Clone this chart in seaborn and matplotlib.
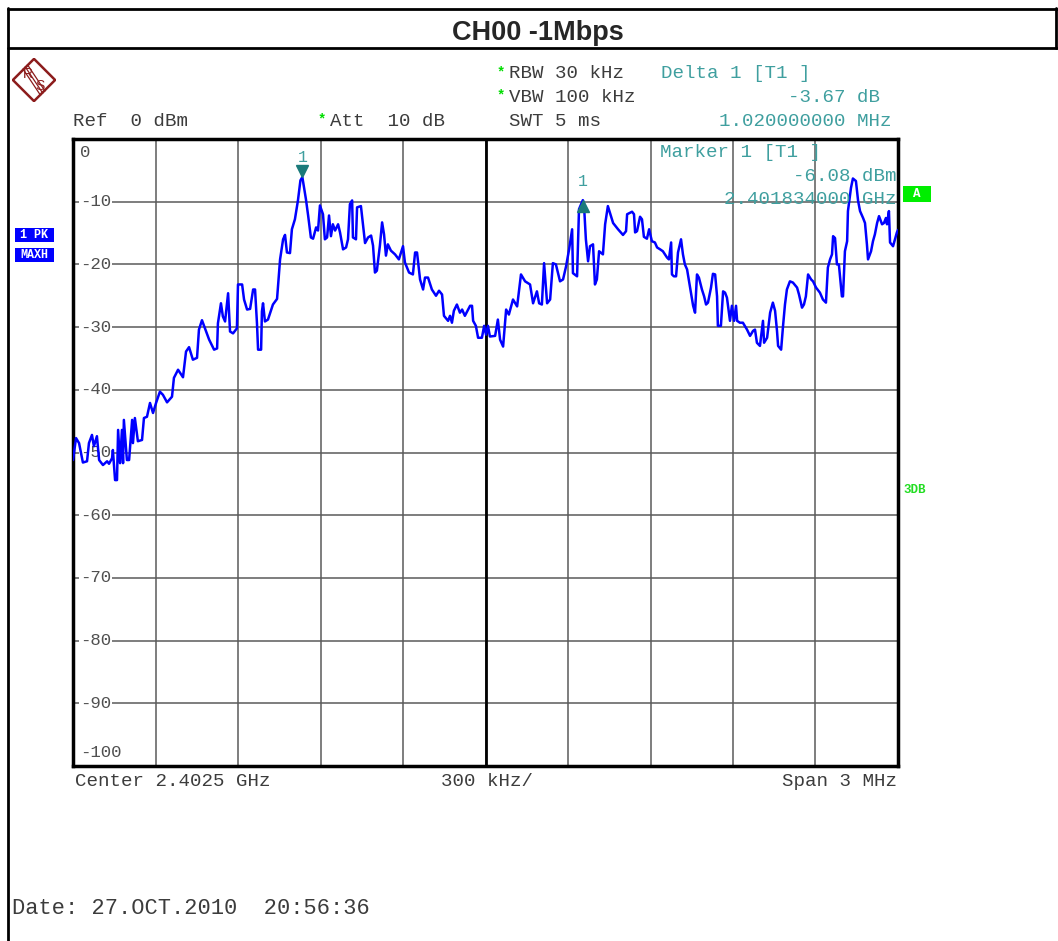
import matplotlib
matplotlib.use("Agg")
import matplotlib.pyplot as plt
import seaborn as sns
import numpy as np
import pandas as pd
from matplotlib.patches import Polygon, Rectangle
from matplotlib.lines import Line2D

# spectrum trace: offset from 2.401 GHz (MHz) and level (dBm)
freq_mhz = [
    0.000, 0.011, 0.022, 0.036, 0.051, 0.058, 0.069, 0.076, 0.087, 0.095,
    0.109, 0.124, 0.131, 0.142, 0.145, 0.153, 0.160, 0.164, 0.171, 0.178,
    0.182, 0.185, 0.196, 0.204, 0.215, 0.218, 0.225, 0.236, 0.251, 0.258,
    0.269, 0.280, 0.291, 0.302, 0.316, 0.327, 0.342, 0.360, 0.367, 0.382,
    0.400, 0.411, 0.422, 0.436, 0.451, 0.458, 0.469, 0.480, 0.495, 0.513,
    0.524, 0.527, 0.538, 0.545, 0.553, 0.564, 0.571, 0.582, 0.596, 0.600,
    0.615, 0.622, 0.633, 0.644, 0.655, 0.662, 0.669, 0.673, 0.684, 0.687,
    0.691, 0.698, 0.709, 0.727, 0.742, 0.753, 0.764, 0.771, 0.778, 0.789,
    0.796, 0.807, 0.818, 0.827, 0.834, 0.847, 0.855, 0.865, 0.873, 0.884,
    0.891, 0.898, 0.909, 0.916, 0.924, 0.931, 0.938, 0.945, 0.953, 0.964,
    0.971, 0.982, 0.993, 1.000, 1.007, 1.015, 1.018, 1.029, 1.033, 1.047,
    1.055, 1.062, 1.073, 1.084, 1.091, 1.098, 1.105, 1.116, 1.124, 1.131,
    1.138, 1.145, 1.156, 1.171, 1.185, 1.200, 1.207, 1.222, 1.236, 1.244,
    1.251, 1.262, 1.273, 1.280, 1.291, 1.305, 1.320, 1.331, 1.342, 1.349,
    1.364, 1.371, 1.378, 1.385, 1.396, 1.407, 1.415, 1.425, 1.444, 1.451,
    1.455, 1.465, 1.473, 1.487, 1.495, 1.502, 1.509, 1.516, 1.535, 1.545,
    1.553, 1.564, 1.575, 1.585, 1.600, 1.615, 1.629, 1.644, 1.662, 1.673,
    1.687, 1.695, 1.705, 1.713, 1.724, 1.735, 1.745, 1.756, 1.771, 1.782,
    1.793, 1.804, 1.815, 1.818, 1.833, 1.840, 1.854, 1.858, 1.865, 1.873,
    1.880, 1.891, 1.898, 1.905, 1.913, 1.927, 1.935, 1.945, 1.964, 1.982,
    2.000, 2.011, 2.015, 2.033, 2.040, 2.044, 2.051, 2.062, 2.069, 2.076,
    2.087, 2.095, 2.105, 2.116, 2.124, 2.135, 2.145, 2.160, 2.167, 2.175,
    2.178, 2.185, 2.193, 2.200, 2.211, 2.218, 2.225, 2.233, 2.244, 2.255,
    2.262, 2.269, 2.276, 2.287, 2.295, 2.302, 2.309, 2.320, 2.327, 2.335,
    2.342, 2.345, 2.356, 2.364, 2.371, 2.378, 2.389, 2.396, 2.404, 2.411,
    2.415, 2.425, 2.436, 2.451, 2.462, 2.473, 2.480, 2.487, 2.498, 2.509,
    2.513, 2.524, 2.535, 2.545, 2.553, 2.560, 2.564, 2.575, 2.582, 2.589,
    2.596, 2.607, 2.618, 2.633, 2.640, 2.651, 2.658, 2.665, 2.673, 2.684,
    2.691, 2.702, 2.716, 2.727, 2.738, 2.745, 2.753, 2.760, 2.764, 2.771,
    2.778, 2.785, 2.796, 2.800, 2.807, 2.815, 2.818, 2.829, 2.836, 2.847,
    2.855, 2.862, 2.873, 2.880, 2.887, 2.891, 2.902, 2.909, 2.916, 2.924,
    2.931, 2.942, 2.949, 2.956, 2.960, 2.967, 2.971, 2.982, 2.989, 2.996,
    3.000,
]
level_dbm = [
    -51.2, -47.7, -48.5, -51.6, -51.4, -48.5, -47.2, -49.0, -47.4, -51.2,
    -52.0, -51.4, -51.8, -50.9, -49.6, -54.4, -54.4, -46.4, -51.7, -46.4,
    -51.7, -44.8, -51.2, -51.2, -44.8, -48.5, -44.5, -48.2, -48.0, -44.5,
    -44.3, -42.1, -43.7, -42.1, -40.3, -40.8, -42.0, -41.1, -38.1, -36.8,
    -38.0, -33.9, -33.2, -35.2, -34.9, -30.4, -28.9, -30.2, -32.0, -33.6,
    -33.4, -29.4, -26.2, -28.3, -29.1, -24.6, -30.7, -31.0, -30.2, -23.2,
    -23.2, -25.6, -27.2, -27.1, -24.0, -24.0, -29.4, -33.6, -33.6, -27.5,
    -26.2, -29.1, -28.8, -26.4, -25.5, -19.2, -16.0, -15.3, -18.1, -18.2,
    -14.4, -12.8, -9.8, -6.6, -6.08, -9.6, -12.2, -15.7, -15.9, -14.1,
    -14.6, -10.6, -12.0, -16.0, -15.7, -12.2, -15.5, -13.6, -14.6, -13.6,
    -14.9, -17.6, -17.3, -16.0, -10.4, -9.8, -15.7, -16.0, -10.9, -10.7,
    -13.8, -16.6, -15.7, -15.4, -17.0, -21.3, -21.0, -17.0, -13.3, -15.2,
    -18.6, -16.8, -17.8, -18.4, -19.2, -17.1, -19.7, -21.3, -21.6, -18.1,
    -18.1, -22.4, -24.0, -22.1, -22.1, -24.0, -25.0, -24.2, -24.8, -28.2,
    -29.0, -28.2, -29.3, -27.4, -26.4, -27.7, -27.2, -28.2, -26.6, -26.6,
    -29.0, -29.8, -31.7, -31.7, -29.8, -31.2, -29.8, -31.5, -31.4, -28.8,
    -32.0, -33.1, -27.2, -28.0, -25.6, -26.7, -21.6, -22.7, -23.2, -26.2,
    -24.3, -26.2, -26.4, -19.8, -26.2, -25.6, -19.8, -20.0, -22.7, -22.4,
    -20.3, -17.6, -14.4, -21.4, -21.9, -11.2, -9.75, -10.4, -16.0, -19.5,
    -17.1, -16.8, -23.2, -22.4, -17.9, -18.4, -13.6, -10.7, -13.4, -14.4,
    -15.3, -14.7, -12.0, -11.6, -12.0, -14.9, -14.7, -12.4, -12.8, -15.6,
    -15.9, -14.4, -16.3, -16.5, -17.3, -17.6, -17.9, -18.9, -19.2, -16.5,
    -21.6, -21.9, -21.9, -18.1, -16.0, -18.4, -20.0, -20.8, -23.7, -26.6,
    -27.7, -21.6, -22.1, -24.0, -25.1, -26.4, -26.1, -23.7, -21.5, -21.6,
    -25.1, -29.8, -29.8, -24.3, -24.5, -25.3, -29.0, -26.6, -29.0, -26.6,
    -29.0, -29.3, -29.3, -30.4, -31.4, -30.6, -30.4, -32.5, -33.0, -29.0,
    -32.5, -31.7, -27.7, -26.1, -27.4, -30.6, -33.0, -33.6, -29.8, -26.4,
    -24.0, -22.7, -22.9, -23.7, -24.8, -26.9, -26.4, -25.1, -21.6, -22.4,
    -22.7, -23.7, -24.5, -25.6, -26.1, -20.5, -19.2, -18.4, -15.5, -15.8,
    -20.0, -20.0, -25.1, -25.1, -17.9, -16.3, -11.5, -7.8, -6.3, -6.7,
    -9.9, -11.5, -12.6, -13.4, -16.8, -19.2, -17.9, -16.3, -15.2, -13.4,
    -12.3, -13.6, -13.4, -12.6, -13.6, -11.5, -16.5, -17.1, -16.0, -14.9,
    -14.5,
]

marker_freq = 0.834
marker_level = -6.08
delta_freq = 1.854
delta_level = -9.75

y_levels = [-10, -20, -30, -40, -50, -60, -70, -80, -90]

header_left = "Ref  0 dBm"
header_att = "Att  10 dB"
header_bw = ["RBW 30 kHz", "VBW 100 kHz", "SWT 5 ms"]
delta_lines = ["Delta 1 [T1 ]", "-3.67 dB", "1.020000000 MHz"]
marker_lines = ["Marker 1 [T1 ]", "-6.08 dBm", "2.401834000 GHz"]

W, H = 1058, 941
MONO = "Liberation Mono"
GREY = "#3c3c3c"
TEAL = "#3f9f9f"

sns.set_style("white")
plt.rcParams["font.family"] = ["Liberation Mono", "DejaVu Sans"]


def fx(x):
    return x / W


def fy(y):
    return 1 - y / H


fig = plt.figure(figsize=(10.58, 9.41), dpi=100)

# outer frame and title row
for xs, ys in [([8, 8], [8, H]), ([8, W], [9, 9]), ([8, W], [48, 48]), ([1056, 1056], [8, 48])]:
    fig.add_artist(Line2D([fx(v) for v in xs], [fy(v) for v in ys], color="black", lw=2))
fig.text(fx(538), fy(33), "CH00 -1Mbps", ha="center", va="center",
         fontsize=19.5, fontweight="bold", family="Liberation Sans")

# R&S logo
logo = fig.add_axes([fx(12), fy(102), fx(44), 44 / H])
logo.set_xlim(0, 1)
logo.set_ylim(0, 1)
logo.axis("off")
red = "#8c1c1c"
logo.add_patch(Polygon([(0.5, 0.98), (0.98, 0.5), (0.5, 0.02), (0.02, 0.5)], closed=True,
                       fill=False, ec=red, lw=1.8))
for off in (-0.05, 0.0, 0.05):
    logo.plot([0.3 + off, 0.7 + off], [0.8 + off, 0.2 + off], color=red, lw=0.9)
logo.text(0.36, 0.64, "R", color=red, fontsize=10, ha="center", va="center", family="Liberation Sans")
logo.text(0.63, 0.36, "S", color=red, fontsize=10, ha="center", va="center", family="Liberation Sans")

# header texts
fs = 13.8
fig.text(fx(73), fy(121), header_left, fontsize=fs, color=GREY, va="center", family=MONO)
fig.text(fx(318), fy(119), "*", fontsize=10, color="#00dd00", va="center", fontweight="bold", family=MONO)
fig.text(fx(330), fy(121), header_att, fontsize=fs, color=GREY, va="center", family=MONO)
for i, txt in enumerate(header_bw):
    yy = 74 + i * 23.5
    if i < 2:
        fig.text(fx(497), fy(yy - 2), "*", fontsize=10, color="#00dd00", va="center", fontweight="bold", family=MONO)
    fig.text(fx(509), fy(yy), txt, fontsize=fs, color=GREY, va="center", family=MONO)
fig.text(fx(661), fy(74), delta_lines[0], fontsize=fs, color=TEAL, va="center", family=MONO)
fig.text(fx(880), fy(97), delta_lines[1], fontsize=fs, color=TEAL, va="center", ha="right", family=MONO)
fig.text(fx(892), fy(121), delta_lines[2], fontsize=fs, color=TEAL, va="center", ha="right", family=MONO)

# trace display
ax = fig.add_axes([fx(73), fy(766), fx(898 - 73), (766 - 139) / H])
df = pd.DataFrame({"freq": freq_mhz, "level": level_dbm})
ax.set_xlim(0, 3)
ax.set_ylim(-100, 0)
ax.set_xticks(np.arange(0, 3.01, 0.3))
ax.set_yticks(np.arange(-100, 1, 10))
ax.tick_params(length=0, labelleft=False, labelbottom=False)
ax.grid(True, color="#5a5a5a", lw=1.1)
ax.axvline(1.5, color="black", lw=2)
for sp in ax.spines.values():
    sp.set_color("black")
    sp.set_linewidth(2.5)

for v in y_levels:
    ax.text(0.025, v, "-" + str(abs(v)), fontsize=12.5, color="#505050", va="center", ha="left",
            family=MONO, bbox=dict(fc="white", ec="none", pad=0.5), zorder=3)
ax.text(0.025, -2.1, "0", fontsize=12.5, color="#505050", va="center", ha="left", family=MONO)
ax.text(0.025, -97.8, "-100", fontsize=12.5, color="#505050", va="center", ha="left", family=MONO)

for i, txt in enumerate(marker_lines):
    if i == 0:
        ax.text(2.135, -2.2, txt, fontsize=fs, color=TEAL, va="center", family=MONO, zorder=5)
    else:
        ax.text(2.995, -6.0 - (i - 1) * 3.6, txt, fontsize=fs, color=TEAL, va="center", ha="right",
                family=MONO, zorder=5)

sns.lineplot(data=df, x="freq", y="level", ax=ax, color="#0000ff", lw=1.8,
             estimator=None, sort=False, zorder=4)
ax.set_xlabel("")
ax.set_ylabel("")

ax.plot(marker_freq, marker_level + 0.9, marker="v", color="#1a7a7a", markersize=9, zorder=6)
ax.text(marker_freq, marker_level + 3.1, "1", fontsize=12, color=TEAL, ha="center", va="center", family=MONO)
ax.plot(delta_freq, delta_level - 0.9, marker="^", color="#1a7a7a", markersize=9, zorder=6)
ax.text(delta_freq, delta_level + 3.0, "1", fontsize=12, color=TEAL, ha="center", va="center", family=MONO)

# side labels
fig.add_artist(Rectangle((fx(903), fy(202)), fx(28), 16 / H, fc="#00ee00", ec="none"))
fig.text(fx(917), fy(194), "A", fontsize=9, color="white", fontweight="bold", ha="center", va="center", family=MONO)
for yy, txt in [(235, "1 PK"), (255, "MAXH")]:
    fig.add_artist(Rectangle((fx(15), fy(yy + 7)), fx(39), 14 / H, fc="#0000ff", ec="none"))
    fig.text(fx(34.5), fy(yy), txt, fontsize=8.5, color="white", fontweight="bold",
             ha="center", va="center", family=MONO)
fig.text(fx(903), fy(490), "3DB", fontsize=9, color="#22dd22", fontweight="bold", va="center", family=MONO)

# footer
fig.text(fx(75), fy(782), "Center 2.4025 GHz", fontsize=fs, color=GREY, va="center", family=MONO)
fig.text(fx(441), fy(782), "300 kHz/", fontsize=fs, color=GREY, va="center", family=MONO)
fig.text(fx(897), fy(782), "Span 3 MHz", fontsize=fs, color=GREY, va="center", ha="right", family=MONO)
fig.text(fx(12), fy(908), "Date: 27.OCT.2010  20:56:36", fontsize=15.8, color=GREY, va="center", family=MONO)

fig.savefig("out.png", dpi=100)
